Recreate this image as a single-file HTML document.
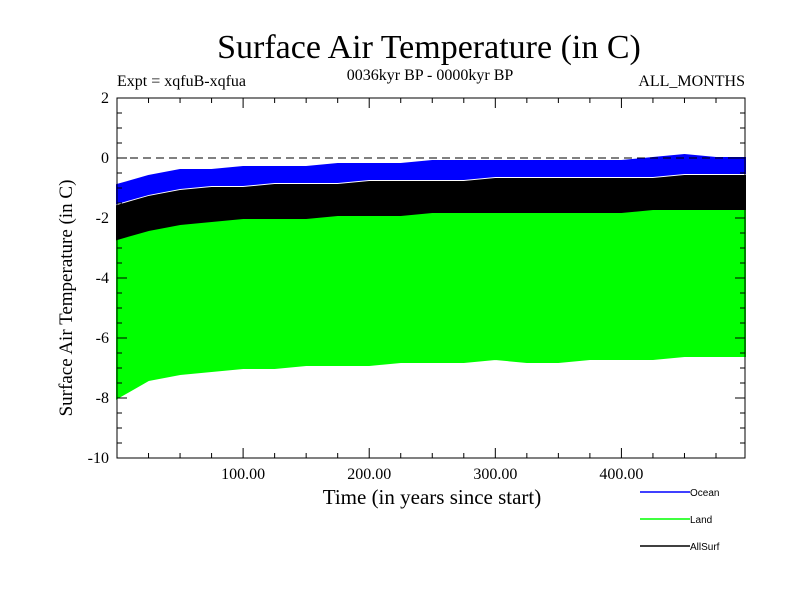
<!DOCTYPE html>
<html><head><meta charset="utf-8"><style>
body{margin:0;background:#fff}
svg text{font-family:"Liberation Serif",serif}
</style></head><body>
<svg id="chart" width="800" height="600" xmlns="http://www.w3.org/2000/svg">
<text x="429" y="58" font-size="34" text-anchor="middle">Surface Air Temperature (in C)</text>
<text x="117" y="86" font-size="16">Expt = xqfuB-xqfua</text>
<text x="430" y="80" font-size="16" text-anchor="middle">0036kyr BP - 0000kyr BP</text>
<text x="745" y="86" font-size="16" text-anchor="end">ALL_MONTHS</text>
<text x="432" y="504" font-size="21" text-anchor="middle">Time (in years since start)</text>
<text transform="translate(72,298) rotate(-90)" font-size="19" text-anchor="middle">Surface Air Temperature (in C)</text>
<g id="plot"></g>
<g id="axes"></g>
<g font-size="10">
<line x1="640" y1="492" x2="690" y2="492" stroke="#00f" stroke-width="1.5"/>
<text x="690" y="496" style="font-family:'Liberation Sans',sans-serif">Ocean</text>
<line x1="640" y1="519" x2="690" y2="519" stroke="#0f0" stroke-width="1.5"/>
<text x="690" y="523" style="font-family:'Liberation Sans',sans-serif">Land</text>
<line x1="640" y1="546" x2="690" y2="546" stroke="#000" stroke-width="1.5"/>
<text x="690" y="550" style="font-family:'Liberation Sans',sans-serif">AllSurf</text>
</g>
</svg>
<script>
const years=[0,25,50,75,100,125,150,175,200,225,250,275,300,325,350,375,400,425,450,475,498];
const oceanHi=[-0.9,-0.6,-0.4,-0.4,-0.3,-0.3,-0.3,-0.2,-0.2,-0.2,-0.1,-0.1,-0.1,-0.1,-0.1,-0.1,-0.1,0.0,0.1,0.0,0.0];
const oceanLo=[-1.5,-1.2,-1.0,-0.9,-0.9,-0.8,-0.8,-0.8,-0.7,-0.7,-0.7,-0.7,-0.6,-0.6,-0.6,-0.6,-0.6,-0.6,-0.5,-0.5,-0.5];
const allHi=[-1.6,-1.3,-1.1,-1.0,-1.0,-0.9,-0.9,-0.9,-0.8,-0.8,-0.8,-0.8,-0.7,-0.7,-0.7,-0.7,-0.7,-0.7,-0.6,-0.6,-0.6];
const allLo=[-2.7,-2.4,-2.2,-2.1,-2.0,-2.0,-2.0,-1.9,-1.9,-1.9,-1.8,-1.8,-1.8,-1.8,-1.8,-1.8,-1.8,-1.7,-1.7,-1.7,-1.7];
const landHi=[-2.4,-2.0,-1.8,-1.7,-1.6,-1.6,-1.6,-1.5,-1.5,-1.5,-1.4,-1.4,-1.4,-1.4,-1.4,-1.4,-1.4,-1.3,-1.2,-1.2,-1.2];
const landLo=[-8.0,-7.4,-7.2,-7.1,-7.0,-7.0,-6.9,-6.9,-6.9,-6.8,-6.8,-6.8,-6.7,-6.8,-6.8,-6.7,-6.7,-6.7,-6.6,-6.6,-6.6];
const xTicks=[100,200,300,400];
const yTicks=[2,0,-2,-4,-6,-8,-10];
const L=117,R=745,T=98,B=458,X0=0,X1=498,Y0=-10,Y1=2;
const sx=v=>L+(v-X0)/(X1-X0)*(R-L);
const sy=v=>B-(v-Y0)/(Y1-Y0)*(B-T);
const NS="http://www.w3.org/2000/svg";
const plot=document.getElementById('plot'),axes=document.getElementById('axes');
function mk(tag,attrs,parent){const e=document.createElementNS(NS,tag);for(const k in attrs)e.setAttribute(k,attrs[k]);parent.appendChild(e);return e;}
function band(hi,lo,color,name){
  let pts=years.map((y,i)=>sx(y)+','+sy(hi[i]));
  for(let i=years.length-1;i>=0;i--)pts.push(sx(years[i])+','+sy(lo[i]));
  const p=mk('polygon',{points:pts.join(' '),fill:color,stroke:color,'stroke-width':2},plot);
  
  
}
band(landHi,landLo,'#00ff00','land-series');
band(allHi,allLo,'#000000','allsurf-series');
band(oceanHi,oceanLo,'#0000ff','ocean-series');
const zl=mk('line',{x1:L,x2:R,y1:sy(0),y2:sy(0),stroke:'#000','stroke-dasharray':'8,5'},plot);


const fr=mk('rect',{x:L,y:T,width:R-L,height:B-T,fill:'none',stroke:'#000','stroke-width':1},axes);


for(let v=25;v<X1;v+=25){const major=v%100===0;const len=major?10:5;
  mk('line',{x1:sx(v),x2:sx(v),y1:B,y2:B-len,stroke:'#000'},axes);
  mk('line',{x1:sx(v),x2:sx(v),y1:T,y2:T+len,stroke:'#000'},axes);}
for(let v=-9.5;v<2;v+=0.5){const major=Math.abs(v%2)<1e-9;const len=major?10:5;
  mk('line',{x1:L,x2:L+len,y1:sy(v),y2:sy(v),stroke:'#000'},axes);
  mk('line',{x1:R,x2:R-len,y1:sy(v),y2:sy(v),stroke:'#000'},axes);}
xTicks.forEach(v=>{const t=mk('text',{x:sx(v),y:B+21,'font-size':16,'text-anchor':'middle'},axes);t.textContent=v.toFixed(2);
  
  });
yTicks.forEach(v=>{const t=mk('text',{x:L-8,y:sy(v)+5,'font-size':16,'text-anchor':'end'},axes);t.textContent=v;
  
  });
</script>
</body></html>
